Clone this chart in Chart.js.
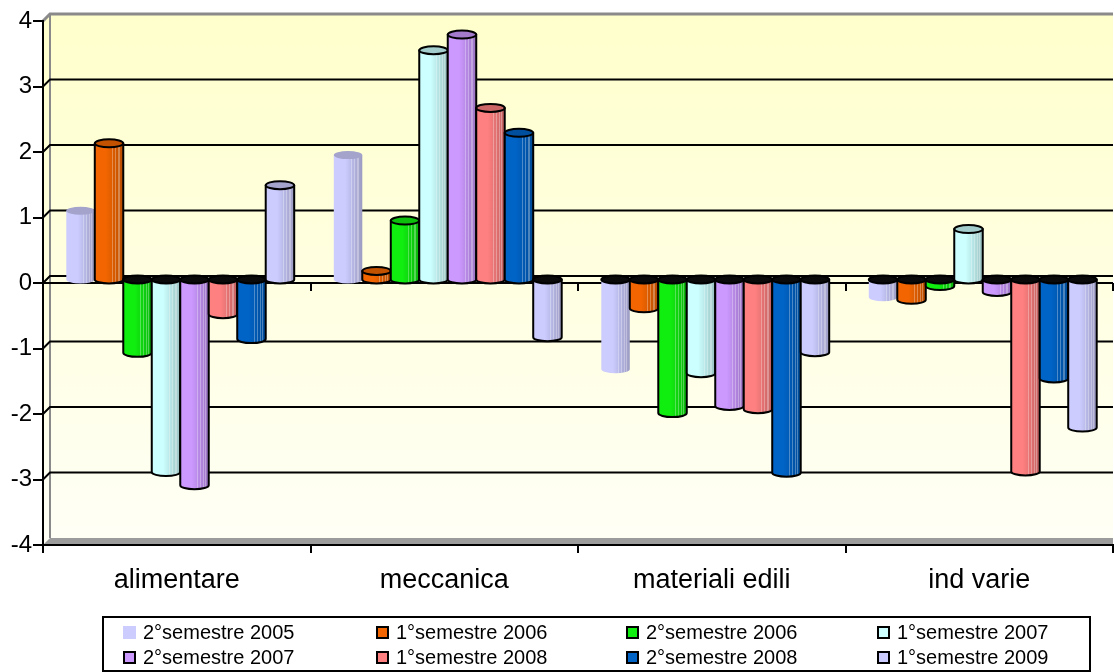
<!DOCTYPE html>
<html>
<head>
<meta charset="utf-8">
<script src="https://cdn.jsdelivr.net/npm/chart.js@4.4.0/dist/chart.umd.min.js"></script>
<style>
  html, body { margin: 0; padding: 0; background: #ffffff; }
  #wrap { width: 1114px; height: 672px; position: relative; }
</style>
</head>
<body>
<div id="wrap"><canvas id="chart" width="1114" height="672"></canvas></div>
<script>
// Sectors on the category axis
const categories = ['alimentare', 'meccanica', 'materiali edili', 'ind varie'];

// One series per half-year
const sem2_2005 = [1.05, 1.90, -1.37, -0.27];
const sem1_2006 = [2.08, 0.13, -0.44, -0.31];
const sem2_2006 = [-1.12, 0.90, -2.04, -0.10];
const sem1_2007 = [-2.94, 3.50, -1.43, 0.77];
const sem2_2007 = [-3.14, 3.74, -1.93, -0.19];
const sem1_2008 = [-0.53, 2.62, -1.98, -2.93];
const sem2_2008 = [-0.91, 2.24, -2.95, -1.51];
const sem1_2009 = [1.44, -0.88, -1.11, -2.26];

const seriesNames = ['2°semestre 2005', '1°semestre 2006', '2°semestre 2006', '1°semestre 2007',
                     '2°semestre 2007', '1°semestre 2008', '2°semestre 2008', '1°semestre 2009'];
const seriesValues = [sem2_2005, sem1_2006, sem2_2006, sem1_2007, sem2_2007, sem1_2008, sem2_2008, sem1_2009];
const seriesColors = ['#CCCCFF', '#F26500', '#10EE10', '#CCFFFF', '#CC99FF', '#FF8080', '#0063C6', '#CCCCFF'];
const seriesOutline = [false, true, true, true, true, true, true, true];

// Y axis range and step
const yMin = -4, yMax = 4, yStep = 1;

const FONT = '"Liberation Sans", Arial, sans-serif';
const DEPTH = 7;   // offset of the back wall (right and up)
const RY = 4;      // vertical radius of the cylinder ends

function shade(hex, f) {
  const n = parseInt(hex.slice(1), 16);
  const r = Math.round(((n >> 16) & 255) * f);
  const g = Math.round(((n >> 8) & 255) * f);
  const b = Math.round((n & 255) * f);
  return 'rgb(' + Math.min(255, r) + ',' + Math.min(255, g) + ',' + Math.min(255, b) + ')';
}

function drawCylinder(ctx, cx, w, yVal, yZero, color, outline) {
  const hw = w / 2;
  const grad = ctx.createLinearGradient(cx - hw, 0, cx + hw, 0);
  grad.addColorStop(0, color);
  grad.addColorStop(0.4, color);
  grad.addColorStop(1, shade(color, 0.76));
  const positive = yVal <= yZero;

  const body = new Path2D();
  if (positive) {
    body.moveTo(cx - hw, yZero);
    body.lineTo(cx - hw, yVal);
    body.lineTo(cx + hw, yVal);
    body.lineTo(cx + hw, yZero);
    body.ellipse(cx, yZero, hw, RY, 0, 0, Math.PI, false);
  } else {
    body.moveTo(cx - hw, yZero);
    body.lineTo(cx - hw, yVal);
    body.ellipse(cx, yVal, hw, RY, 0, Math.PI, 0, true);
    body.lineTo(cx + hw, yZero);
  }
  body.closePath();

  ctx.save();
  ctx.lineJoin = 'round';
  ctx.fillStyle = grad;
  ctx.fill(body);

  // faint vertical highlights on the body
  ctx.save();
  ctx.clip(body);
  ctx.strokeStyle = 'rgba(255,255,255,0.3)';
  ctx.lineWidth = 1;
  [0.1, 0.2, 0.3, 0.36].forEach(f => {
    const x = Math.round(cx + w * f) + 0.5;
    ctx.beginPath();
    ctx.moveTo(x, Math.min(yVal, yZero) - RY);
    ctx.lineTo(x, Math.max(yVal, yZero) + RY);
    ctx.stroke();
  });
  ctx.restore();

  if (outline) {
    ctx.lineWidth = 2;
    ctx.strokeStyle = '#000';
    ctx.stroke(body);
  }

  // end cap at the top of the cylinder
  const cap = new Path2D();
  if (positive) {
    cap.ellipse(cx, yVal, hw, RY, 0, 0, Math.PI * 2);
    ctx.fillStyle = shade(color, 0.8);
  } else {
    cap.ellipse(cx, yZero, hw, RY, 0, 0, Math.PI * 2);
    ctx.fillStyle = '#0a0a0a';
  }
  ctx.fill(cap);
  if (outline || !positive) {
    ctx.lineWidth = 2;
    ctx.strokeStyle = '#000';
    ctx.stroke(cap);
  }
  ctx.restore();
}

const scenePlugin = {
  id: 'scene',
  beforeDraw(chart) {
    const { ctx, chartArea: a, scales: { y } } = chart;
    ctx.save();
    // walls with a soft yellow fill
    const g = ctx.createLinearGradient(0, a.top - DEPTH, 0, a.bottom);
    g.addColorStop(0, '#FFFFCC');
    g.addColorStop(1, '#FFFFF6');
    ctx.fillStyle = g;
    ctx.beginPath();
    ctx.moveTo(a.left, a.top);
    ctx.lineTo(a.left + DEPTH, a.top - DEPTH);
    ctx.lineTo(a.right, a.top - DEPTH);
    ctx.lineTo(a.right, a.bottom);
    ctx.lineTo(a.left, a.bottom);
    ctx.closePath();
    ctx.fill();

    // floor
    ctx.fillStyle = '#9c9c9c';
    ctx.beginPath();
    ctx.moveTo(a.left, a.bottom);
    ctx.lineTo(a.left + DEPTH, a.bottom - DEPTH);
    ctx.lineTo(a.right, a.bottom - DEPTH);
    ctx.lineTo(a.right, a.bottom);
    ctx.closePath();
    ctx.fill();

    // wall edges
    ctx.strokeStyle = '#8a8a8a';
    ctx.lineWidth = 3;
    ctx.beginPath();
    ctx.moveTo(a.left, a.top);
    ctx.lineTo(a.left + DEPTH, a.top - DEPTH);
    ctx.lineTo(a.right, a.top - DEPTH);
    ctx.stroke();
    ctx.lineWidth = 2;
    ctx.beginPath();
    ctx.moveTo(a.left + DEPTH, a.top - DEPTH);
    ctx.lineTo(a.left + DEPTH, a.bottom - DEPTH);
    ctx.stroke();

    // gridlines on the back wall
    ctx.strokeStyle = '#000';
    ctx.lineWidth = 2;
    for (let v = yMin + yStep; v < yMax; v += yStep) {
      const py = y.getPixelForValue(v);
      ctx.beginPath();
      ctx.moveTo(a.left, py);
      ctx.lineTo(a.left + DEPTH, py - DEPTH);
      ctx.lineTo(a.right, py - DEPTH);
      ctx.stroke();
    }
    ctx.restore();
  },
  afterDatasetsDraw(chart) {
    const { ctx, chartArea: a, scales: { x, y } } = chart;
    const y0 = y.getPixelForValue(0);
    ctx.save();
    // category axis crossing at zero, with its tick marks
    ctx.strokeStyle = '#000';
    ctx.lineWidth = 2;
    ctx.beginPath();
    ctx.moveTo(a.left, y0);
    ctx.lineTo(a.right, y0);
    for (let i = 1; i <= categories.length; i++) {
      const bx = Math.round(x.getPixelForValue(i - 0.5));
      ctx.moveTo(bx, y0);
      ctx.lineTo(bx, y0 + 8);
    }
    ctx.stroke();
    ctx.restore();

    // cylinders, placed at mid depth
    const zeroMid = y0 - DEPTH / 2;
    chart.data.datasets.forEach((ds, di) => {
      const meta = chart.getDatasetMeta(di);
      meta.data.forEach(el => {
        drawCylinder(ctx, el.x + DEPTH / 2, el.width, el.y - DEPTH / 2, zeroMid,
                     seriesColors[di], seriesOutline[di]);
      });
    });
  },
  afterDraw(chart) {
    const { ctx } = chart;
    ctx.save();
    // legend box
    ctx.strokeStyle = '#000';
    ctx.lineWidth = 2;
    ctx.strokeRect(103, 617, 987, 54);
    const colX = [123, 376, 626, 877];
    const rowY = [632.5, 657.5];
    ctx.font = '20px ' + FONT;
    ctx.textBaseline = 'middle';
    ctx.textAlign = 'left';
    seriesNames.forEach((name, i) => {
      const cx = colX[i % 4], cy = rowY[Math.floor(i / 4)];
      ctx.fillStyle = seriesColors[i];
      ctx.fillRect(cx, cy - 6.5, 13, 13);
      if (seriesOutline[i]) {
        ctx.lineWidth = 2;
        ctx.strokeStyle = '#000';
        ctx.strokeRect(cx + 1, cy - 5.5, 11, 11);
      }
      ctx.fillStyle = '#000';
      ctx.fillText(name, cx + 20, cy + 1);
    });
    ctx.restore();
  }
};

new Chart(document.getElementById('chart'), {
  type: 'bar',
  data: {
    labels: categories,
    datasets: seriesNames.map((name, i) => ({
      label: name,
      data: seriesValues[i],
      backgroundColor: 'rgba(0,0,0,0)',
      borderWidth: 0,
      categoryPercentage: 0.852,
      barPercentage: 1.0
    }))
  },
  options: {
    responsive: false,
    animation: false,
    layout: { padding: { top: 21, right: 1, left: 0, bottom: 0 } },
    plugins: { legend: { display: false }, tooltip: { enabled: false } },
    scales: {
      x: {
        grid: { drawOnChartArea: false, tickLength: 8, color: '#000', lineWidth: 2, offset: true },
        border: { color: '#000', width: 2 },
        ticks: { font: { family: FONT, size: 27 }, color: '#000', padding: 11, maxRotation: 0 },
        afterFit(s) { s.height = 127; }
      },
      y: {
        min: yMin, max: yMax,
        ticks: { stepSize: yStep, font: { family: FONT, size: 24 }, color: '#000', padding: 1 },
        grid: { drawOnChartArea: false, tickLength: 10, color: '#000', lineWidth: 2 },
        border: { color: '#000', width: 2 },
        afterFit(s) { s.width = 43; }
      }
    }
  },
  plugins: [scenePlugin]
});
</script>
</body>
</html>
